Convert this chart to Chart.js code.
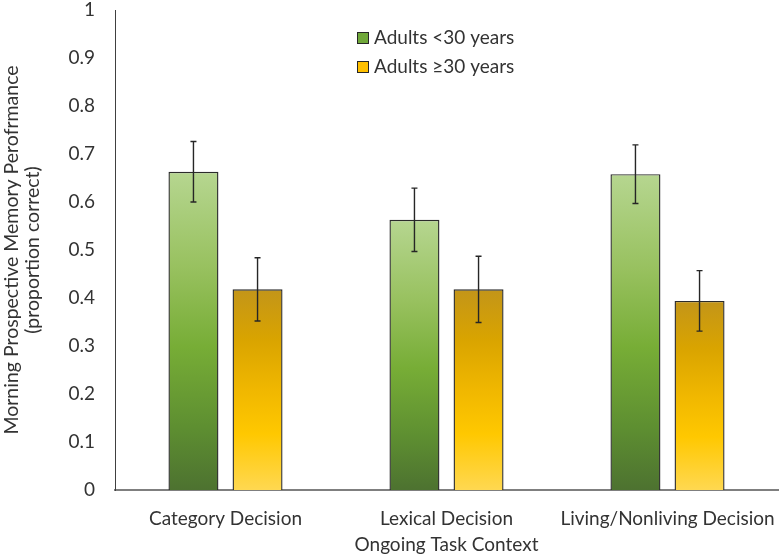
<!DOCTYPE html>
<html>
<head>
<meta charset="utf-8">
<script src="https://cdn.jsdelivr.net/npm/chart.js@4/dist/chart.umd.min.js"></script>
<style>
  html, body { margin: 0; padding: 0; background: #fff; }
  #box { width: 780px; height: 559px; }
</style>
</head>
<body>
<div id="box"><canvas id="myChart"></canvas></div>
<script>
// dados
const categories = ['Category Decision', 'Lexical Decision', 'Living/Nonliving Decision'];
const youngLabel = 'Adults <30 years';
const olderLabel = 'Adults \u226530 years';
const youngValues = [0.663, 0.563, 0.658];
const youngErrors = [0.063, 0.066, 0.061];
const olderValues = [0.418, 0.418, 0.394];
const olderErrors = [0.066, 0.069, 0.063];
const yTickLabels = ['0', '0.1', '0.2', '0.3', '0.4', '0.5', '0.6', '0.7', '0.8', '0.9', '1'];

const fontFamily = 'Lato, "Open Sans", sans-serif';
const textColor = '#333333';

// gradiente por barra (do topo da barra ate o zero)
function barGradient(stops) {
    return (ctx) => {
        const chart = ctx.chart;
        if (!chart.chartArea || ctx.raw === undefined) return stops[stops.length - 1][1];
        const y = chart.scales.y;
        const top = y.getPixelForValue(ctx.raw);
        const base = y.getPixelForValue(0);
        const g = chart.ctx.createLinearGradient(0, top, 0, base);
        stops.forEach(s => g.addColorStop(s[0], s[1]));
        return g;
    };
}

const greenStops = [[0, '#b6d690'], [0.3, '#98c15f'], [0.55, '#77ad36'], [0.8, '#5e8f31'], [1, '#4d7230']];
const yellowStops = [[0, '#c39519'], [0.25, '#d9a400'], [0.5, '#f0b700'], [0.72, '#ffc800'], [1, '#ffd851']];

// barras de erro desenhadas com as escalas do grafico
const errorBars = {
    id: 'errorBars',
    afterDatasetsDraw(chart) {
        const ctx = chart.ctx;
        const y = chart.scales.y;
        ctx.save();
        ctx.strokeStyle = '#262626';
        ctx.lineWidth = 1.4;
        chart.data.datasets.forEach((ds, i) => {
            const meta = chart.getDatasetMeta(i);
            meta.data.forEach((bar, j) => {
                const v = ds.data[j];
                const e = ds.errors[j];
                const yt = y.getPixelForValue(v + e);
                const yb = y.getPixelForValue(v - e);
                const x = bar.x;
                ctx.beginPath();
                ctx.moveTo(x, yt); ctx.lineTo(x, yb);
                ctx.moveTo(x - 3, yt); ctx.lineTo(x + 3, yt);
                ctx.moveTo(x - 3, yb); ctx.lineTo(x + 3, yb);
                ctx.stroke();
            });
        });
        ctx.restore();
    }
};

// legenda empilhada dentro da area do grafico
const stackedLegend = {
    id: 'stackedLegend',
    afterDraw(chart) {
        const ctx = chart.ctx;
        ctx.save();
        ctx.font = '19px ' + fontFamily;
        ctx.textBaseline = 'middle';
        chart.data.datasets.forEach((ds, i) => {
            const yc = 38 + i * 29;
            ctx.fillStyle = ds.legendColor;
            ctx.fillRect(357, yc - 6, 12, 12);
            ctx.strokeStyle = '#262626';
            ctx.lineWidth = 1;
            ctx.strokeRect(357.5, yc - 5.5, 11, 11);
            ctx.fillStyle = textColor;
            ctx.fillText(ds.label, 374, yc);
        });
        ctx.restore();
    }
};

const grafico = document.getElementById('myChart');
new Chart(grafico, {
    type: 'bar',
    data: {
        labels: categories,
        datasets: [{
            label: youngLabel,
            data: youngValues,
            errors: youngErrors,
            legendColor: '#70a83a',
            backgroundColor: barGradient(greenStops),
            borderColor: '#2b2b2b',
            borderWidth: 1.4,
        }, {
            label: olderLabel,
            data: olderValues,
            errors: olderErrors,
            legendColor: '#ffc000',
            backgroundColor: barGradient(yellowStops),
            borderColor: '#2b2b2b',
            borderWidth: 1.4,
        }]
    },
    options: {
        responsive: true,
        maintainAspectRatio: false,
        animation: false,
        categoryPercentage: 0.58,
        barPercentage: 0.78,
        layout: { padding: { top: 10, right: 2, left: 0, bottom: 0 } },
        plugins: {
            legend: { display: false },
            tooltip: { enabled: false }
        },
        scales: {
            x: {
                grid: { display: false, drawTicks: false },
                border: { display: true, color: '#7f7f7f', width: 2 },
                ticks: { color: textColor, font: { family: fontFamily, size: 19 }, padding: 17, maxRotation: 0, autoSkip: false },
                title: { display: true, text: 'Ongoing Task Context', color: textColor, font: { family: fontFamily, size: 19 }, padding: { top: 0, bottom: 3 } },
                afterFit(scale) {
                    scale.height = 69;
                    scale.paddingLeft = 0;
                    scale.paddingRight = 0;
                }
            },
            y: {
                min: 0,
                max: 1,
                grid: { display: false, drawTicks: false },
                border: { display: true, color: '#404040', width: 1 },
                ticks: {
                    stepSize: 0.1,
                    color: textColor,
                    font: { family: fontFamily, size: 19 },
                    padding: 20,
                    callback: (v, i) => yTickLabels[i]
                },
                title: {
                    display: true,
                    text: ['Morning Prospective Memory Perofrmance', '(proportion correct)'],
                    color: textColor,
                    font: { family: fontFamily, size: 19.5, lineHeight: 1.1 },
                    padding: { top: 1, bottom: 0 }
                },
                afterFit(scale) {
                    scale.width = 115;
                    scale.paddingTop = 0;
                    scale.paddingBottom = 0;
                }
            }
        }
    },
    plugins: [errorBars, stackedLegend]
});
</script>
</body>
</html>
